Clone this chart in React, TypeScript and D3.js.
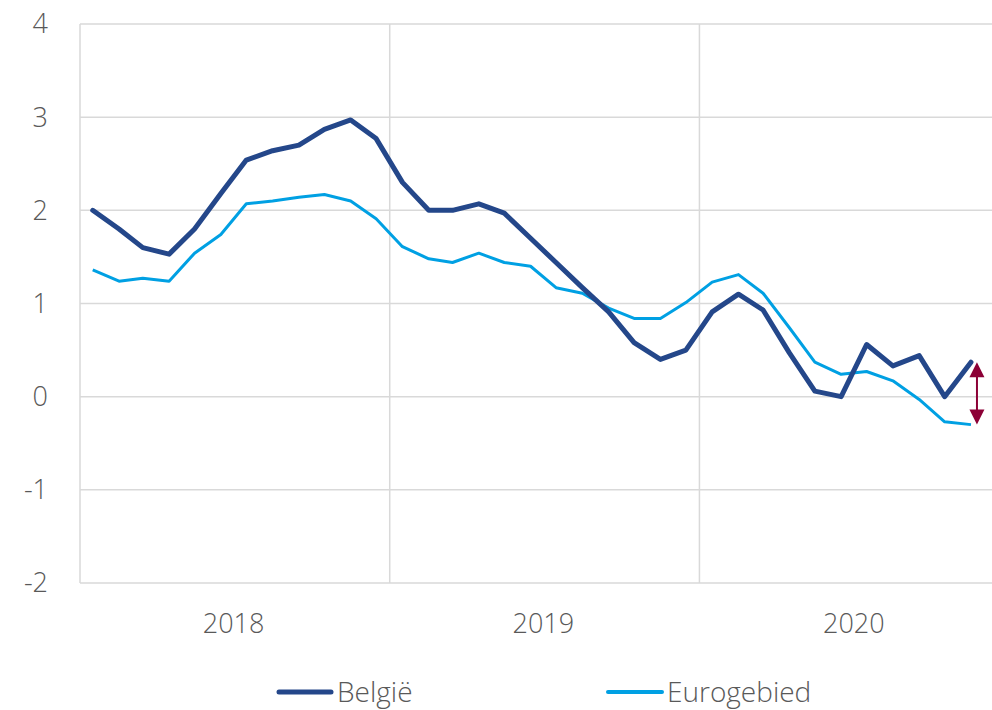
import React from 'react';
import * as d3 from 'd3';

// monthly inflation, Jan 2018 - Nov 2020
const belgie = [2.0, 1.8, 1.6, 1.53, 1.8, 2.18, 2.54, 2.64, 2.7, 2.87, 2.97, 2.77, 2.3, 2.0, 2.0, 2.07, 1.97, 1.7, 1.44, 1.17, 0.91, 0.58, 0.4, 0.5, 0.91, 1.1, 0.93, 0.47, 0.06, 0.0, 0.56, 0.33, 0.44, 0.0, 0.37];
const eurogebied = [1.36, 1.24, 1.27, 1.24, 1.54, 1.74, 2.07, 2.1, 2.14, 2.17, 2.1, 1.91, 1.61, 1.48, 1.44, 1.54, 1.44, 1.4, 1.17, 1.11, 0.95, 0.84, 0.84, 1.01, 1.23, 1.31, 1.11, 0.74, 0.37, 0.24, 0.27, 0.17, -0.03, -0.27, -0.3];
const years = [2018, 2019, 2020];
const yTicks = [-2, -1, 0, 1, 2, 3, 4];

const width = 992;
const height = 710;
const font = "'Open Sans', 'Noto Sans', sans-serif";
const textColor = '#595959';
const gridColor = '#d9d9d9';
const darkBlue = '#24478a';
const lightBlue = '#00a0e3';
const arrowColor = '#8c0036';

const dates = belgie.map((_, i) => new Date(2018, i, 16));

const x = d3.scaleTime()
  .domain([new Date(2018, 0, 1), new Date(2021, 0, 1)])
  .range([80, 1010]);
const y = d3.scaleLinear().domain([-2, 4]).range([583, 24]);

const line = d3.line<number>()
  .x((_, i) => x(dates[i]))
  .y(d => y(d));

const App = () => {
  const last = dates.length - 1;
  const ax = x(dates[last]) + 6;
  const aTop = y(belgie[last]);
  const aBot = y(eurogebied[last]);
  const head = 15;
  const hw = 7.5;

  return (
    <svg width={width} height={height} style={{ position: 'absolute', left: 0, top: 0 }}>
      {/* horizontal grid */}
      {yTicks.map(t => (
        <g key={t}>
          <line x1={80} x2={width} y1={y(t)} y2={y(t)} stroke={gridColor} strokeWidth={1.5} />
          <text x={48} y={y(t)} dy="0.35em" textAnchor="end" fontFamily={font} fontWeight={300}
            fontSize={27} fill={textColor}>{t}</text>
        </g>
      ))}
      {/* year boundaries */}
      {[2018, 2019, 2020, 2021].map(yr => (
        <line key={yr} x1={x(new Date(yr, 0, 1))} x2={x(new Date(yr, 0, 1))} y1={y(4)} y2={y(-2)}
          stroke={gridColor} strokeWidth={1.5} />
      ))}
      {years.map(yr => (
        <text key={yr} x={x(new Date(yr, 6, 1))} y={633} textAnchor="middle" fontFamily={font}
          fontWeight={300} fontSize={27} fill={textColor}>{yr}</text>
      ))}

      <path d={line(eurogebied) || ''} fill="none" stroke={lightBlue} strokeWidth={3} strokeLinejoin="round" />
      <path d={line(belgie) || ''} fill="none" stroke={darkBlue} strokeWidth={5} strokeLinejoin="round" strokeLinecap="round" />

      {/* gap arrow */}
      <line x1={ax} x2={ax} y1={aTop + head - 1} y2={aBot - head + 1} stroke={arrowColor} strokeWidth={2} />
      <path d={`M${ax},${aTop}L${ax + hw},${aTop + head}L${ax - hw},${aTop + head}Z`} fill={arrowColor} />
      <path d={`M${ax},${aBot}L${ax + hw},${aBot - head}L${ax - hw},${aBot - head}Z`} fill={arrowColor} />

      {/* legend */}
      <line x1={279} x2={331} y1={692} y2={692} stroke={darkBlue} strokeWidth={5} strokeLinecap="round" />
      <text x={337} y={702} fontFamily={font} fontWeight={300} fontSize={28} fill={textColor}>België</text>
      <line x1={608} x2={662} y1={692} y2={692} stroke={lightBlue} strokeWidth={4} strokeLinecap="round" />
      <text x={667} y={702} fontFamily={font} fontWeight={300} fontSize={28} fill={textColor}>Eurogebied</text>
    </svg>
  );
};

export default App;
